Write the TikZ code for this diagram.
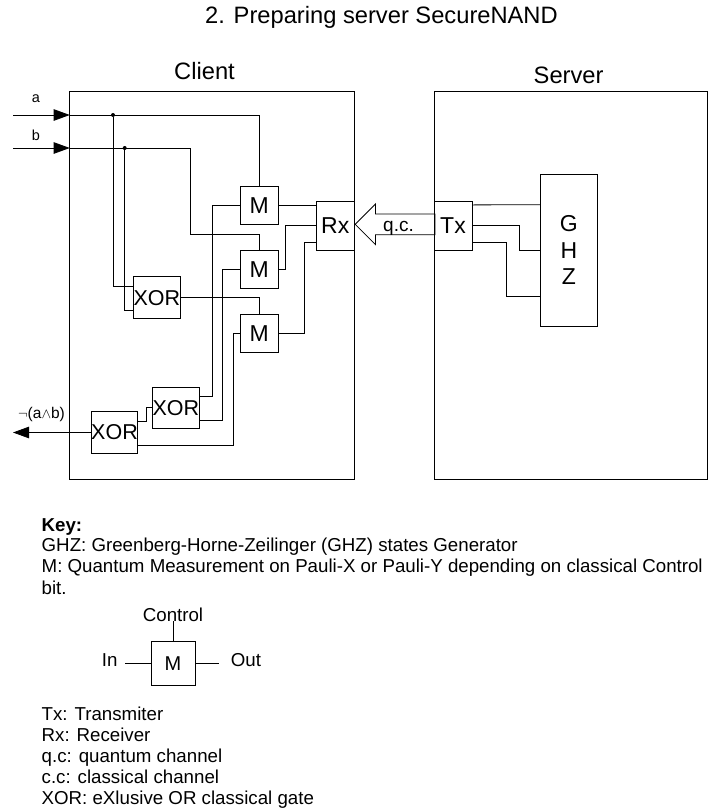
\documentclass[tikz,border=0pt]{standalone}
\usepackage{fontspec}
\setmainfont{Liberation Sans}
\usepackage{tikz}
\usetikzlibrary{arrows.meta, calc, shapes.arrows}

\begin{document}
\begin{tikzpicture}[
    x=1pt, y=-1pt,
    frame/.style={draw, rectangle, line width=0.8pt, inner sep=0pt},
    mbox/.style={frame, minimum width=38pt, minimum height=38pt, font=\fontsize{23}{26}\selectfont},
    xorbox/.style={frame, minimum width=45.7pt, minimum height=41.7pt, font=\fontsize{21.5}{24}\selectfont},
    portbox/.style={frame, minimum width=38pt, minimum height=49pt, font=\fontsize{23}{26}\selectfont},
    dot/.style={circle, fill=black, inner sep=0pt, minimum size=4pt},
    wire/.style={line width=0.8pt},
    arrow/.style={line width=0.8pt,->,>={Triangle[length=16pt,width=11.5pt]}},
    head/.style={anchor=base west, inner sep=0pt, font=\fontsize{23.7}{26}\selectfont},
    small/.style={anchor=base, inner sep=0pt, font=\fontsize{14.5}{16}\selectfont},
    keytext/.style={anchor=base west, inner sep=0pt, font=\fontsize{18.7}{20}\selectfont}
]
\useasboundingbox (0,0) rectangle (708,812);

\node[head] (title) at (205,23.5) {2. Preparing server SecureNAND};
\node[head] (clientlabel) at (174,79) {Client};
\node[head] (serverlabel) at (533.5,83) {Server};

\node[frame, minimum width=284.3pt, minimum height=388pt] (client) at (211.85,285) {};
\node[frame, minimum width=273pt, minimum height=388pt] (server) at (570.5,285) {};

\node[mbox] (m1) at (259.3,205.5) {M};
\node[mbox] (m2) at (259.3,269.3) {M};
\node[mbox] (m3) at (259.3,333.7) {M};
\node[xorbox] (xor1) at (156.8,297.7) {XOR};
\node[xorbox] (xor2) at (175.8,407.8) {XOR};
\node[xorbox] (xor3) at (114.5,432.5) {XOR};
\node[portbox] (rx) at (335.2,225.7) {Rx};
\node[portbox] (tx) at (453,225.7) {Tx};
\node[frame, minimum width=57pt, minimum height=151.7pt, align=center,
  font=\fontsize{23}{26.7}\selectfont] (ghz) at (568.8,250.2) {G\\H\\Z};

\node[draw, line width=0.8pt, single arrow, shape border rotate=180, inner sep=0pt,
  text height=20pt, text depth=0pt, minimum height=79.7pt, minimum width=40pt,
  single arrow head extend=10pt, single arrow tip angle=90, anchor=tip] (qc)
  at ($(rx.east)+(0,-1.4)$) {};
\node[anchor=base, inner sep=0pt, font=\fontsize{19}{22}\selectfont] (qclabel) at (398.5,231.7) {q.c.};

% inputs
\coordinate (ina) at (13,115);
\coordinate (inb) at (13,148);
\coordinate (a0) at (69.7,115);
\coordinate (b0) at (69.7,148);
\coordinate (bturn) at (190,234);
\node[dot] (dota) at (113,115) {};
\node[dot] (dotb) at (124.7,148) {};
\node[small] (alabel) at (36,102) {a};
\node[small] (blabel) at (36,140) {b};

\draw[arrow] (ina) -- (a0);
\draw[arrow] (inb) -- (b0);
\draw[wire] (a0) -| (m1.north);
\draw[wire] (b0) -| (bturn) -| (m2.north);
\draw[wire] (dota) |- ($(xor1.west)+(0,-11)$);
\draw[wire] (dotb) |- ($(xor1.west)+(0,12.6)$);
\draw[wire] (xor1.east) -| (m3.north);

% measurement outcomes
\draw[wire] (m1.east) -- (m1.east -| rx.west);
\draw[wire] (m2.east) -| ($(rx.west)+(-30.3,0)$) -- (rx.west);
\draw[wire] (m3.east) -| ($(rx.west)+(-11.6,17)$) -- ($(rx.west)+(0,17)$);

% control bits
\draw[wire] (m1.west) -| ($(xor2.east)+(13.3,-11)$) -- ($(xor2.east)+(0,-11)$);
\draw[wire] (m2.west) -| ($(xor2.east)+(22.9,12.5)$) -- ($(xor2.east)+(0,12.5)$);
\draw[wire] ($(xor3.east)+(0,-11)$) -- ++(8,0) |- (xor2.west);
\draw[wire] ($(xor3.east)+(0,12.5)$) -- ++(95.7,0) |- (m3.west);

% output
\coordinate (outend) at (13,432.5);
\node[small, font=\fontsize{15.5}{17}\selectfont] (outlabel) at (41.5,418) {$\neg$(a$\wedge$b)};
\draw[arrow] (xor3.west) -- (outend);

% server side
\draw[wire] ($(tx.east)+(0,-20.8)$) -- ($(ghz.west)+(0,-45.5)$);
\draw[wire] (tx.east) -| ($(ghz.west)+(-20.6,0)$) -- (ghz.west);
\draw[wire] ($(tx.east)+(0,16.8)$) -| ($(ghz.west)+(-34,45.8)$) -- ($(ghz.west)+(0,45.8)$);

% key
\node[keytext, font=\fontsize{18.7}{20}\selectfont\bfseries] (keyhead) at (41.5,531) {Key:};
\node[keytext] (keyghz) at (41.5,551.7) {GHZ: Greenberg-Horne-Zeilinger (GHZ) states Generator};
\node[keytext] (keym) at (41.5,572.7) {M: Quantum Measurement on Pauli-X or Pauli-Y depending on classical Control};
\node[keytext] (keybit) at (41.5,594) {bit.};

\node[frame, minimum width=44pt, minimum height=44pt, font=\fontsize{20}{24}\selectfont] (mkey) at (173,663.3) {M};
\node[keytext, anchor=base] (ctl) at (173,621) {Control};
\node[keytext] (inlabel) at (101.7,666.7) {In};
\node[keytext] (outkey) at (230.7,666.7) {Out};
\draw[wire] (mkey.north) -- (ctl.south);
\draw[wire] (mkey.west) -- ++(-25.3,0);
\draw[wire] (mkey.east) -- ++(23.7,0);

\node[keytext] (keytx) at (41.5,720) {Tx: Transmiter};
\node[keytext] (keyrx) at (41.5,741.5) {Rx: Receiver};
\node[keytext] (keyqc) at (41.5,762.3) {q.c: quantum channel};
\node[keytext] (keycc) at (41.5,783.3) {c.c: classical channel};
\node[keytext] (keyxor) at (41.5,804.3) {XOR: eXlusive OR classical gate};
\end{tikzpicture}
\end{document}
